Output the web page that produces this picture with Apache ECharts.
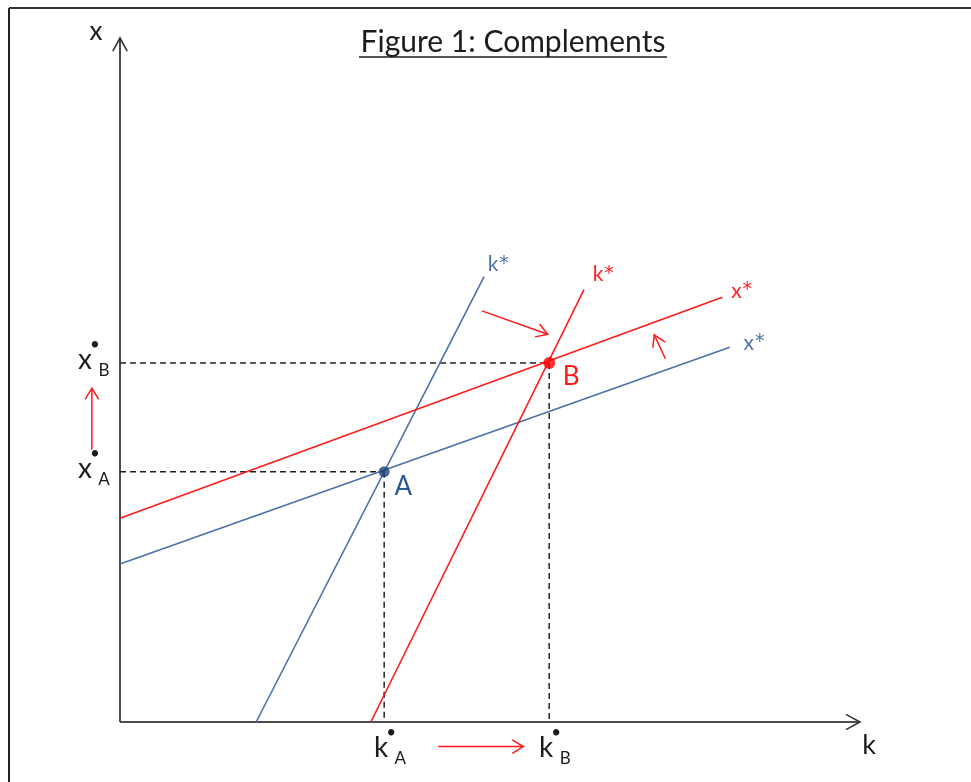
<!DOCTYPE html>
<html><head><meta charset="utf-8">
<script src="https://cdn.jsdelivr.net/npm/echarts@6/dist/echarts.min.js"></script>
<style>html,body{margin:0;padding:0;background:#fff}#c{width:971px;height:782px}</style>
</head><body><div id="c"></div>
<script>
// Axis ranges (abstract units)
const xRange = [0, 10];
const yRange = [0, 10];
// Curves (end points)
const blueK = [[1.84, 0], [4.92, 6.51]];
const redK  = [[3.39, 0], [6.27, 6.32]];
const redX  = [[0, 2.98], [8.14, 6.21]];
const blueX = [[0, 2.31], [8.24, 5.48]];
// Equilibria
const pointA = [3.57, 3.66];
const pointB = [5.80, 5.25];
// Shift arrows [tail, tip]
const shiftArrows = [
  [[-0.38, 3.98], [-0.38, 4.88]],
  [[4.30, -0.36], [5.45, -0.36]],
  [[4.89, 6.01], [5.78, 5.67]],
  [[7.37, 5.31], [7.22, 5.66]]
];
const curveLabels = [
  {letter: 'k', at: blueK[1], dx: 14, dy: -12, color: '#4a72a8'},
  {letter: 'k', at: redK[1], dx: 19, dy: -15, color: '#ff2020'},
  {letter: 'x', at: redX[1], dx: 19, dy: -6, color: '#ff2020'},
  {letter: 'x', at: blueX[1], dx: 24, dy: -4, color: '#4a72a8'}
];

const BLUE = '#4a72a8', RED = '#ff1a1a', DARK = '#1c1c1c';
const FONT = 'Lato, "Noto Sans", sans-serif';
const chart = echarts.init(document.getElementById('c'), null, {renderer: 'canvas'});

function lineSeries(data, color, width, type, z) {
  return {type: 'line', data: data, symbol: 'none', silent: true, animation: false, z: z || 3,
    lineStyle: {color: color, width: width, type: type || 'solid'}};
}

const option = {
  backgroundColor: '#fff',
  animation: false,
  grid: {left: 120, top: 38, width: 740, height: 684},
  xAxis: {type: 'value', min: xRange[0], max: xRange[1], show: false},
  yAxis: {type: 'value', min: yRange[0], max: yRange[1], show: false},
  series: [
    lineSeries([[0, 0], [0, yRange[1]]], '#4d4d4d', 2, 'solid', 2),
    lineSeries([[0, 0], [xRange[1], 0]], '#4d4d4d', 2, 'solid', 2),
    lineSeries([[0, pointA[1]], pointA], '#222', 1.5, [6, 4], 2),
    lineSeries([pointA, [pointA[0], 0]], '#222', 1.5, [6, 4], 2),
    lineSeries([[0, pointB[1]], pointB], '#222', 1.5, [6, 4], 2),
    lineSeries([pointB, [pointB[0], 0]], '#222', 1.5, [6, 4], 2),
    lineSeries(blueK, BLUE, 1.6),
    lineSeries(blueX, BLUE, 1.6),
    lineSeries(redK, RED, 1.6),
    lineSeries(redX, RED, 1.6),
    {type: 'scatter', data: [pointA], symbolSize: 11, itemStyle: {color: '#1f4476'}, z: 5, silent: true},
    {type: 'scatter', data: [pointB], symbolSize: 12, itemStyle: {color: '#ff0000'}, z: 5, silent: true}
  ]
};
chart.setOption(option);

const px = p => chart.convertToPixel({gridIndex: 0}, p);

function chevron(tail, tip, len, ang, color, width) {
  const dx = tip[0] - tail[0], dy = tip[1] - tail[1];
  const a = Math.atan2(dy, dx);
  const l = [tip[0] - len * Math.cos(a - ang), tip[1] - len * Math.sin(a - ang)];
  const r = [tip[0] - len * Math.cos(a + ang), tip[1] - len * Math.sin(a + ang)];
  return [
    {type: 'polyline', shape: {points: [tail, tip]}, style: {stroke: color, lineWidth: width, fill: null}, z: 10},
    {type: 'polyline', shape: {points: [l, tip, r]}, style: {stroke: color, lineWidth: width, fill: null}, z: 10}
  ];
}
function txt(text, x, y, size, color, align, family) {
  return {type: 'text', x: x, y: y, z: 20,
    style: {text: text, font: size + 'px ' + (family || FONT), fill: color,
      align: align || 'center', verticalAlign: 'middle', textAlign: align || 'center', textVerticalAlign: 'middle'}};
}

const g = [];
// frame
g.push({type: 'line', shape: {x1: 9, y1: 8, x2: 971, y2: 8}, style: {stroke: '#333', lineWidth: 2}});
g.push({type: 'line', shape: {x1: 9, y1: 8, x2: 9, y2: 782}, style: {stroke: '#222', lineWidth: 2}});
// axis arrow heads
const o = px([0, 0]), yTop = px([0, yRange[1]]), xEnd = px([xRange[1], 0]);
g.push(...chevron(o, yTop, 15, 0.5, '#333', 1.6).slice(1));
g.push(...chevron(o, xEnd, 16, 0.5, '#333', 1.6).slice(1));
// shift arrows
shiftArrows.forEach(a => g.push(...chevron(px(a[0]), px(a[1]), 13, 0.55, RED, 1.5)));
// axis names
g.push(txt('x', yTop[0] - 24, yTop[1] - 6, 26, DARK));
g.push(txt('k', xEnd[0] + 9, xEnd[1] + 23, 27, DARK));
// equilibrium labels on axes
function starLabel(main, sub, cx, cy) {
  g.push(txt(main, cx, cy, 28, DARK));
  g.push(txt('•', cx + 10, cy - 15, 17, DARK));
  g.push(txt(sub, cx + 19, cy + 11, 17, DARK));
}
const pA = px(pointA), pB = px(pointB);
starLabel('x', 'B', 85, pB[1] - 3);
starLabel('x', 'A', 85, pA[1] - 3);
starLabel('k', 'A', pA[0] - 3, o[1] + 26);
starLabel('k', 'B', pB[0] - 3, o[1] + 26);
// point labels
g.push(txt('A', pA[0] + 19, pA[1] + 15, 26, '#2a5b95'));
g.push(txt('B', pB[0] + 22, pB[1] + 14, 26, RED));
// curve labels (letter plus a larger asterisk)
curveLabels.forEach(c => {
  const p = px(c.at);
  g.push(txt(c.letter, p[0] + c.dx - 5, p[1] + c.dy, 21, c.color));
  g.push(txt('*', p[0] + c.dx + 6, p[1] + c.dy - 1, 19, c.color, 'center', '"DejaVu Sans", sans-serif'));
});
// title
g.push(txt('Figure 1: Complements', 513, 42, 30, DARK));
g.push({type: 'line', shape: {x1: 359, y1: 57, x2: 667, y2: 57}, style: {stroke: DARK, lineWidth: 1.5}});

chart.setOption({graphic: {elements: g}});
</script></body></html>
